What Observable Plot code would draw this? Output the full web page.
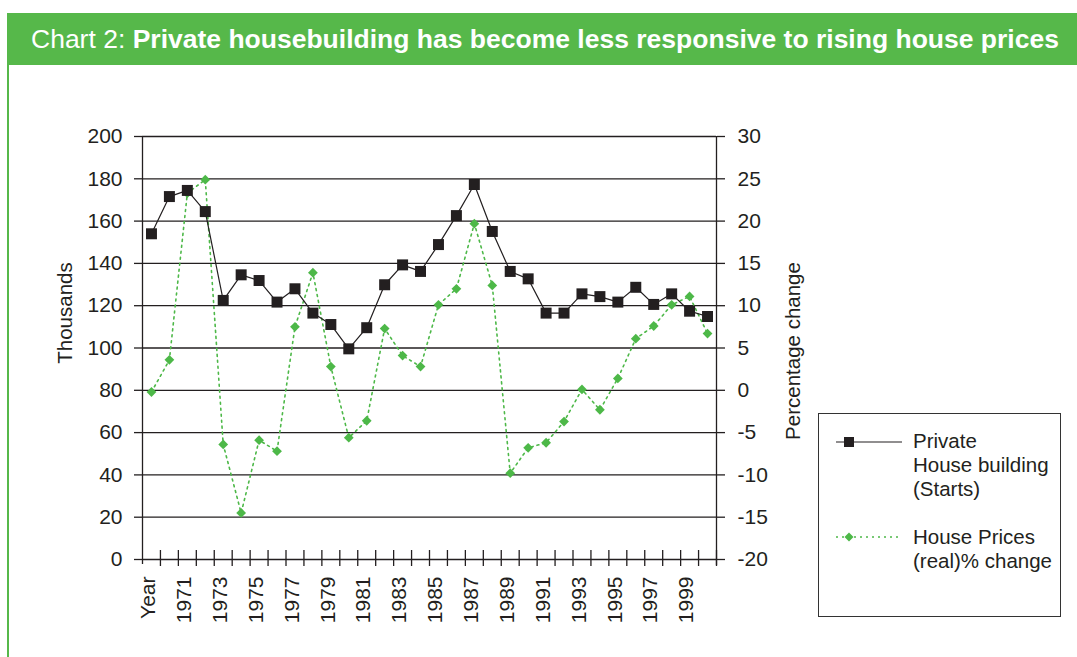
<!DOCTYPE html>
<html>
<head>
<meta charset="utf-8">
<script src="https://cdn.jsdelivr.net/npm/d3@7"></script>
<script src="https://cdn.jsdelivr.net/npm/@observablehq/plot@0.6"></script>
<style>
  html, body { margin: 0; padding: 0; background: #fff; }
  body { width: 1077px; height: 657px; overflow: hidden; font-family: "Liberation Sans", Arial, Helvetica, sans-serif; color: #231f20; }
  #wrap { position: relative; width: 1077px; height: 657px; }
  #header { position: absolute; left: 8px; top: 13px; width: 1069px; height: 52px; background: #56b84a; color: #fff; font-size: 26.5px; line-height: 52px; white-space: nowrap; }
  #header span.t { position: absolute; left: 23px; top: 0; }
  #vline { position: absolute; left: 7px; top: 13px; width: 1.5px; height: 644px; background: #56b84a; }
  #chart { position: absolute; left: 0; top: 80px; }
  #legend { position: absolute; left: 818px; top: 413px; width: 243px; height: 204px; border: 1px solid #333; box-sizing: border-box; font-size: 20.5px; color: #231f20; }
  #legend .item { position: absolute; left: 94px; line-height: 24px; }
  #legend svg { position: absolute; left: 17px; }
</style>
</head>
<body>
<div id="wrap">
  <div id="vline"></div>
  <div id="header"><span class="t">Chart 2: <b>Private housebuilding has become less responsive to rising house prices</b></span></div>
  <div id="chart"></div>
  <div id="legend">
    <svg width="70" height="14" style="top:21px"><line x1="0" y1="7" x2="66" y2="7" stroke="#231f20" stroke-width="1.2"/><rect x="8" y="2" width="10" height="10" fill="#231f20"/></svg>
    <div class="item" style="top:15px">Private<br>House building<br>(Starts)</div>
    <svg width="70" height="14" style="top:116px"><line x1="0" y1="7" x2="62" y2="7" stroke="#4db848" stroke-width="1.5" stroke-dasharray="2 4"/><path d="M13,2.5 L17.5,7 L13,11.5 L8.5,7 Z" fill="#4db848"/></svg>
    <div class="item" style="top:111px">House Prices<br>(real)% change</div>
  </div>
</div>
<script>
// Categories (first category is labelled "Year" in the source)
const categories = ["Year","1970","1971","1972","1973","1974","1975","1976","1977","1978","1979","1980","1981","1982","1983","1984","1985","1986","1987","1988","1989","1990","1991","1992","1993","1994","1995","1996","1997","1998","1999","2000"];
// Private house building starts (thousands)
const starts = [154,171.6,174.5,164.5,122.5,134.6,131.9,121.7,128,116.5,111.1,99.6,109.6,129.9,139.3,136.2,148.9,162.6,177.3,155.1,136.2,132.7,116.5,116.5,125.6,124.3,121.7,128.7,120.6,125.6,117.4,114.9];
// House prices (real) % change
const prices = [-0.2,3.6,23.3,24.9,-6.4,-14.5,-5.9,-7.2,7.5,13.9,2.8,-5.6,-3.6,7.3,4.1,2.8,10.1,12.0,19.7,12.4,-9.8,-6.8,-6.2,-3.7,0.1,-2.3,1.4,6.1,7.6,10.1,11.1,6.7];
// Tick values
const leftTicks = [0,20,40,60,80,100,120,140,160,180,200];
const rightTicks = [-20,-15,-10,-5,0,5,10,15,20,25,30];
const xLabelTicks = categories.filter((d, i) => i % 2 === 0);

// map secondary axis (-20..30) onto primary (0..200)
const pToY = p => (p + 20) * 4;
const yToP = y => y / 4 - 20;

const data = categories.map((c, i) => ({cat: c, starts: starts[i], price: prices[i]}));

const W = 1077, H = 577, mL = 142, mR = 361, mT = 56, mB = 98;
const step = (W - mL - mR) / categories.length;

const chart = Plot.plot({
  width: W, height: H,
  marginLeft: mL, marginRight: mR, marginTop: mT, marginBottom: mB,
  style: {fontFamily: '"Liberation Sans", Arial, Helvetica, sans-serif', color: "#231f20", background: "transparent"},
  x: {type: "point", domain: categories, padding: 0.5, round: false},
  y: {domain: [0, 200]},
  marks: [
    Plot.gridY(leftTicks.filter(d => d > 0), {stroke: "#231f20", strokeOpacity: 1, strokeWidth: 1.3}),
    Plot.ruleY([0], {stroke: "#231f20", strokeWidth: 1.3}),
    // category boundary ticks
    Plot.ruleX(categories, {x: d => d, dx: step / 2, insetTop: (H - mT - mB) - 9, insetBottom: -7, stroke: "#231f20", strokeWidth: 1.3}),
    // left and right axis lines
    Plot.ruleX([categories[0]], {x: d => d, dx: -step / 2, insetBottom: -5, stroke: "#231f20", strokeWidth: 1.3}),
    Plot.ruleX([categories[categories.length - 1]], {x: d => d, dx: step / 2, insetBottom: -6, stroke: "#231f20", strokeWidth: 1.3}),
    Plot.axisY(leftTicks, {anchor: "left", tickSize: 8, tickPadding: 12, fontSize: 21, label: null, strokeWidth: 1.3}),
    Plot.axisY(rightTicks.map(pToY), {anchor: "right", tickSize: 8, tickPadding: 13, fontSize: 21, label: null, tickFormat: v => String(yToP(v)), strokeWidth: 1.3}),
    Plot.axisX(xLabelTicks, {tickRotate: -90, tickSize: 0, tickPadding: 17, fontSize: 21, label: null, dx: -3}),
    Plot.text(["Thousands"], {frameAnchor: "left", textAnchor: "middle", rotate: -90, dx: -77, dy: -35, fontSize: 20.5}),
    Plot.text(["Percentage change"], {frameAnchor: "right", textAnchor: "middle", rotate: -90, dx: 77, dy: 3, fontSize: 20.5}),
    // series
    Plot.line(data, {x: "cat", y: d => pToY(d.price), stroke: "#4db848", strokeWidth: 1.6, strokeDasharray: "2 4"}),
    Plot.line(data, {x: "cat", y: "starts", stroke: "#231f20", strokeWidth: 1.2}),
    Plot.dot(data, {x: "cat", y: d => pToY(d.price), symbol: "diamond2", r: 4.4, fill: "#4db848", stroke: "none"}),
    Plot.dot(data, {x: "cat", y: "starts", symbol: "square", r: 6.2, fill: "#231f20", stroke: "none"})
  ]
});
document.getElementById("chart").appendChild(chart);
</script>
</body>
</html>
